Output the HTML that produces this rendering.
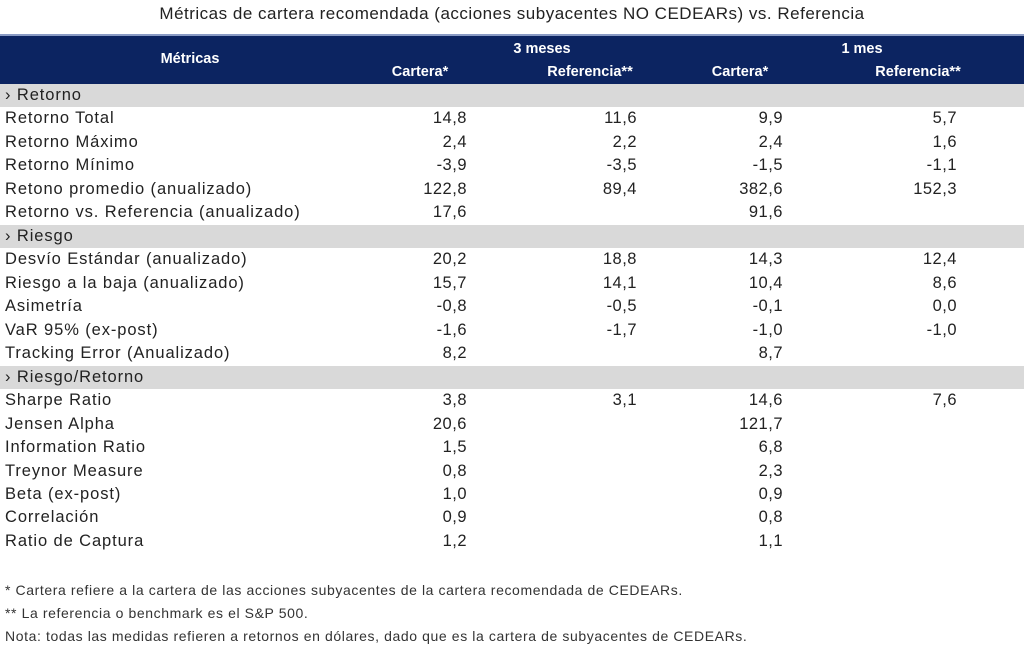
<!DOCTYPE html>
<html><head><meta charset="utf-8">
<style>
body{margin:0;width:1024px;height:648px;background:#fff;font-family:"Liberation Sans",sans-serif;color:#222;position:relative;overflow:hidden}
.t{position:absolute;white-space:nowrap}
#title{left:0;width:1024px;top:4px;text-align:center;font-size:17px;letter-spacing:0.5px;color:#222}
#hdr{position:absolute;left:0;top:34px;width:1024px;height:49px;background:#0c2461;border-top:2px solid #8a9bc4}
.h{color:#fff;font-weight:bold;font-size:14.5px;position:absolute;transform:translateX(-50%);white-space:nowrap}
.sec{position:absolute;left:0;width:1024px;height:23px;background:#d9d9d9}
.lab{position:absolute;left:5px;font-size:16.5px;letter-spacing:0.9px;white-space:nowrap}
.v{position:absolute;font-size:16.5px;letter-spacing:0.5px;transform:translateX(-100%)}
.note{position:absolute;left:5px;font-size:14px;letter-spacing:0.6px;color:#333;white-space:nowrap}
</style></head><body>
<div class="t" id="title">Métricas de cartera recomendada (acciones subyacentes NO CEDEARs) vs. Referencia</div>
<div id="hdr">
<div class="h" style="left:190px;top:15px">Métricas</div>
<div class="h" style="left:542px;top:5px">3 meses</div>
<div class="h" style="left:862px;top:5px">1 mes</div>
<div class="h" style="left:420px;top:28px">Cartera*</div>
<div class="h" style="left:590px;top:28px">Referencia**</div>
<div class="h" style="left:740px;top:28px">Cartera*</div>
<div class="h" style="left:918px;top:28px">Referencia**</div>
</div>
<div id="rows"></div>
<div class="note" style="top:582px">* Cartera refiere a la cartera de las acciones subyacentes de la cartera recomendada de CEDEARs.</div>
<div class="note" style="top:605px">** La referencia o benchmark es el S&amp;P 500.</div>
<div class="note" style="top:628px">Nota: todas las medidas refieren a retornos en dólares, dado que es la cartera de subyacentes de CEDEARs.</div>
<script>
const rowLabels=["› Retorno","Retorno Total","Retorno Máximo","Retorno Mínimo","Retono promedio (anualizado)","Retorno vs. Referencia (anualizado)","› Riesgo","Desvío Estándar (anualizado)","Riesgo a la baja (anualizado)","Asimetría","VaR 95% (ex-post)","Tracking Error (Anualizado)","› Riesgo/Retorno","Sharpe Ratio","Jensen Alpha","Information Ratio","Treynor Measure","Beta (ex-post)","Correlación","Ratio de Captura"];
const cartera3m=[null,"14,8","2,4","-3,9","122,8","17,6",null,"20,2","15,7","-0,8","-1,6","8,2",null,"3,8","20,6","1,5","0,8","1,0","0,9","1,2"];
const ref3m=[null,"11,6","2,2","-3,5","89,4","",null,"18,8","14,1","-0,5","-1,7","",null,"3,1","","","","","",""];
const cartera1m=[null,"9,9","2,4","-1,5","382,6","91,6",null,"14,3","10,4","-0,1","-1,0","8,7",null,"14,6","121,7","6,8","2,3","0,9","0,8","1,1"];
const ref1m=[null,"5,7","1,6","-1,1","152,3","",null,"12,4","8,6","0,0","-1,0","",null,"7,6","","","","","",""];
const cols=[cartera3m,ref3m,cartera1m,ref1m];
const colRight=[467,637,783,957];
const root=document.getElementById('rows');
const y0=84,rh=23.47;
rowLabels.forEach((l,i)=>{
 const top=y0+i*rh;
 if(cartera3m[i]===null){
  const s=document.createElement('div');s.className='sec';s.style.top=top+'px';
  
  
  root.appendChild(s);
 }
 const d=document.createElement('div');d.className='lab';d.style.top=(top+2)+'px';d.textContent=l;
 
 
 root.appendChild(d);
 cols.forEach((c,j)=>{
  if(!c[i])return;
  const v=document.createElement('div');v.className='v';v.style.top=(top+2)+'px';v.style.left=colRight[j]+'px';v.textContent=c[i];
  
  
  root.appendChild(v);
 });
});
</script>
</body></html>
